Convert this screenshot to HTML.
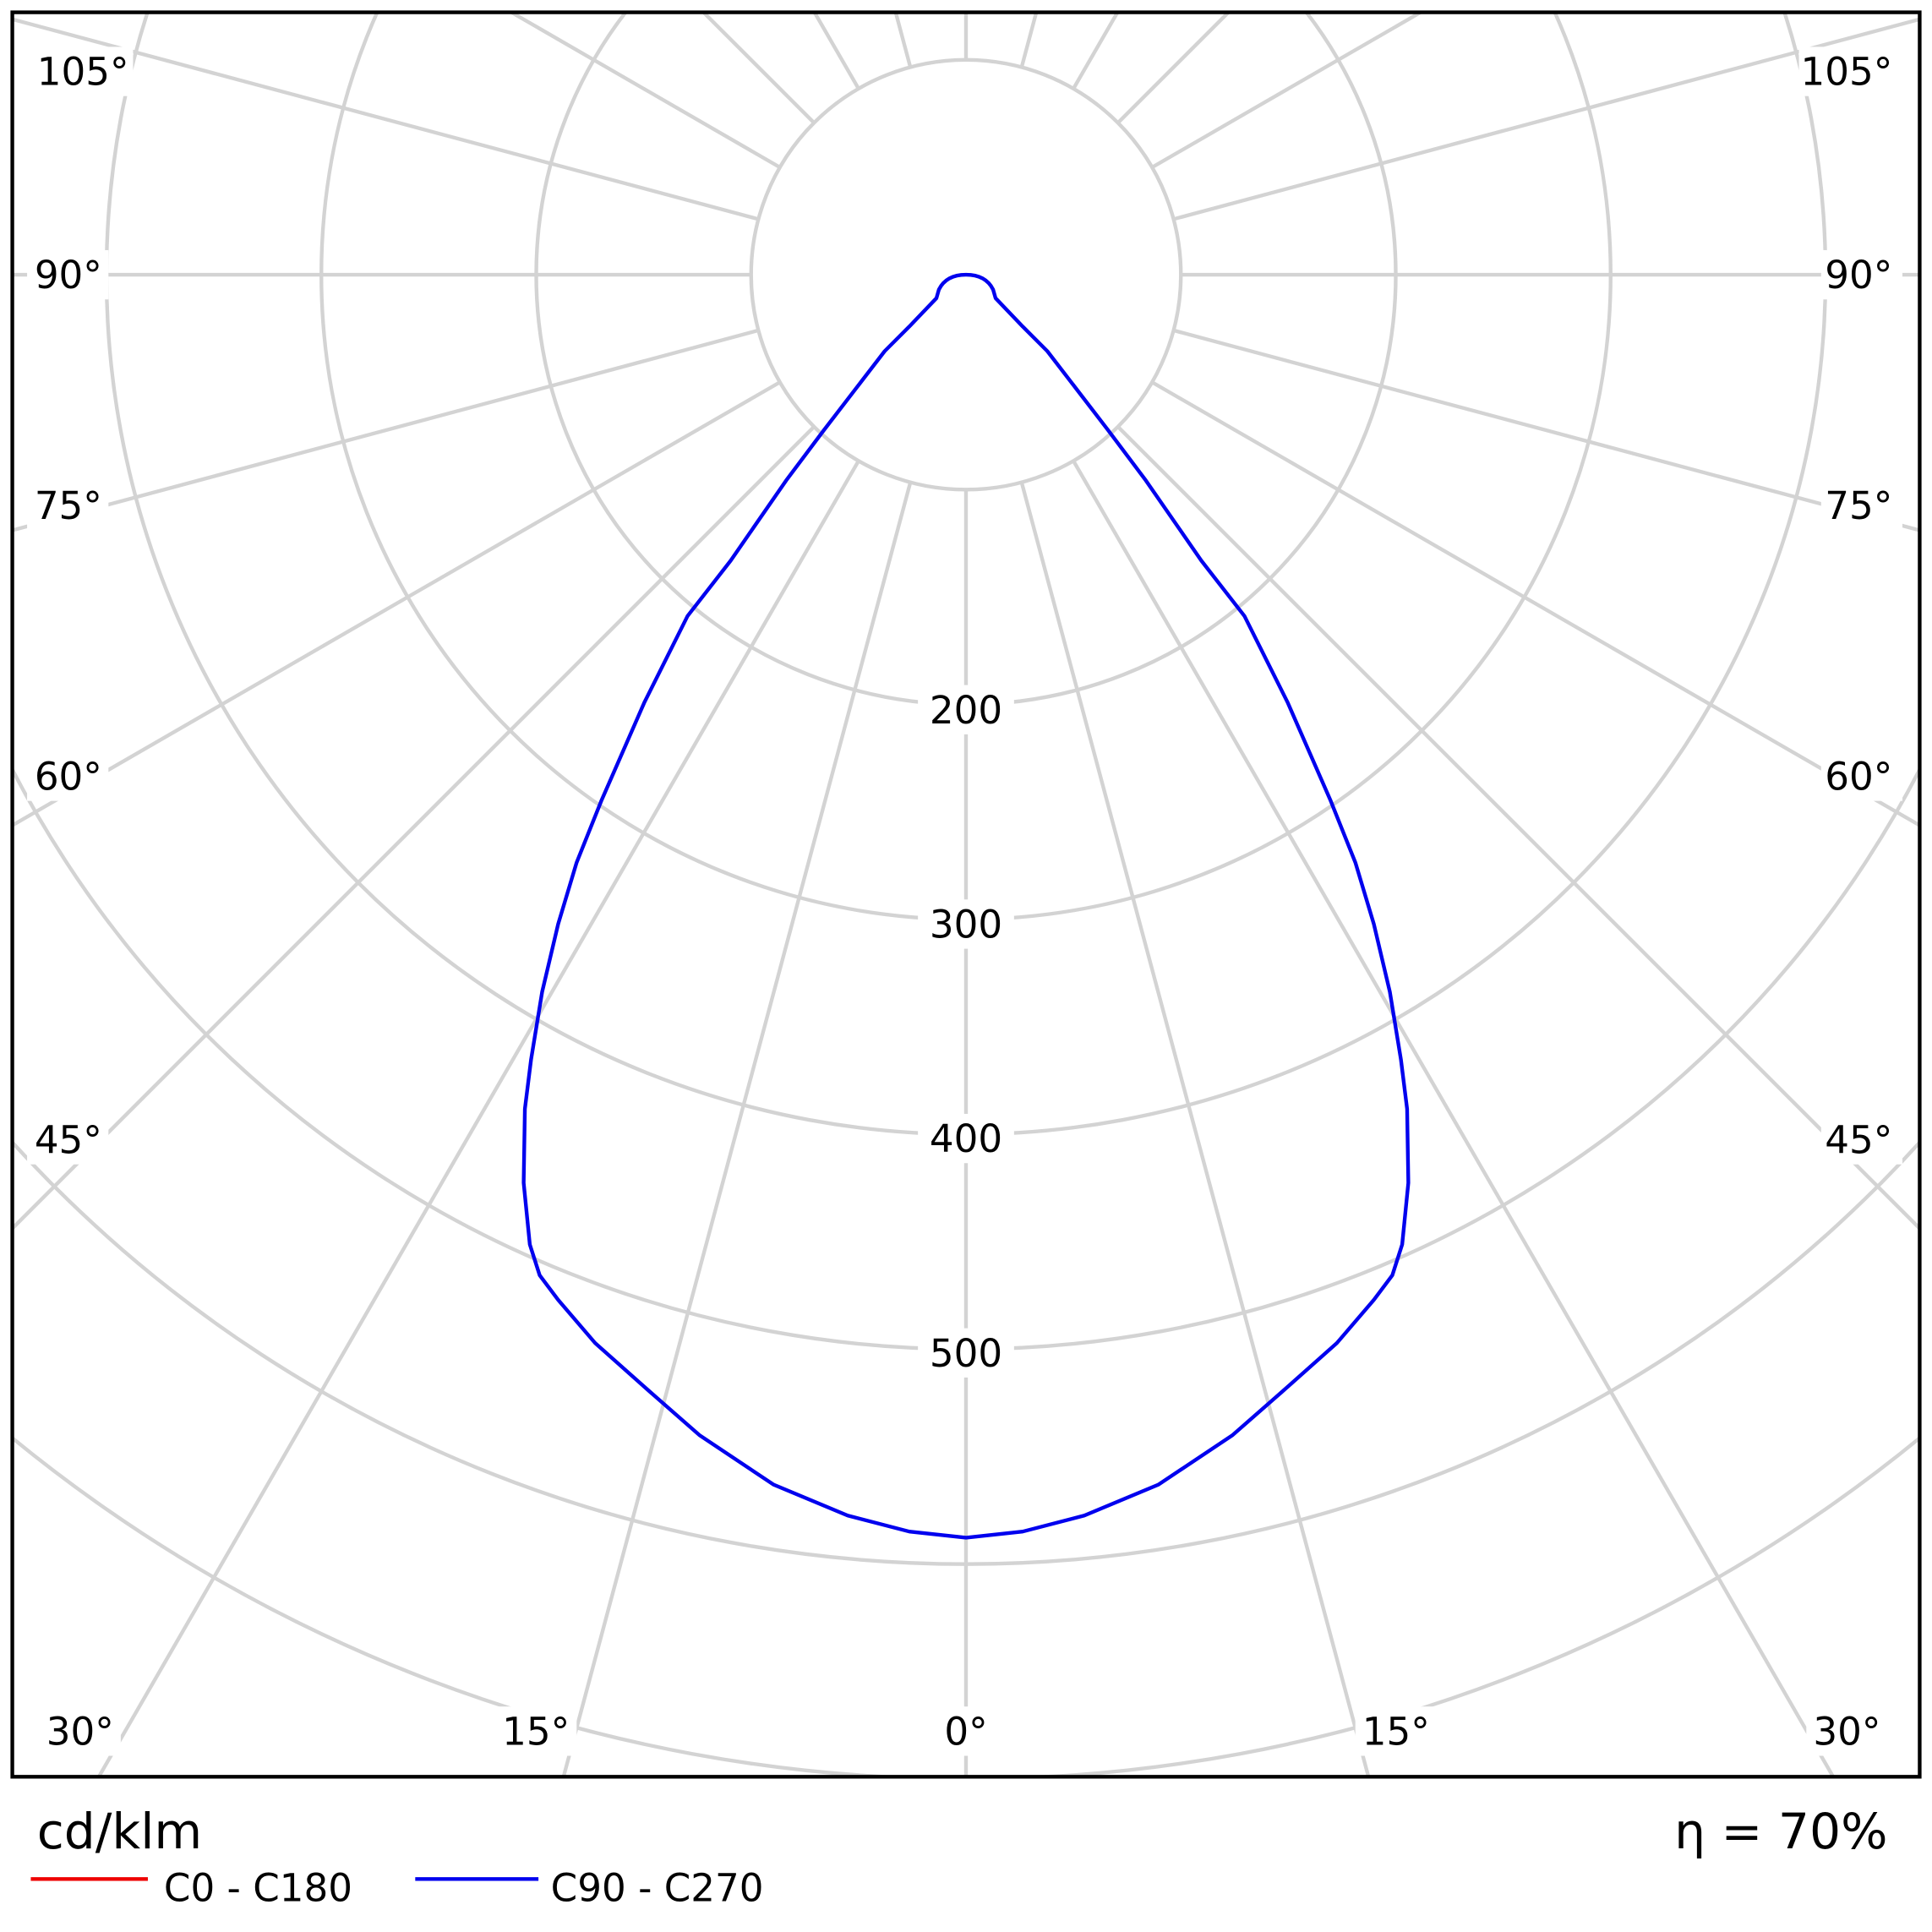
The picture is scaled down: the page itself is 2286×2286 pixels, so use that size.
<!DOCTYPE html>
<html><head><meta charset="utf-8"><style>html,body{margin:0;padding:0;background:#fff;overflow:hidden;width:2286px;height:2286px}svg{display:block}</style></head>
<body>
<svg width="2286" height="2286" viewBox="0 0 1568 1568" xmlns="http://www.w3.org/2000/svg" font-family="'DejaVu Sans','Liberation Sans',sans-serif">
<defs><clipPath id="c"><rect x="10" y="10" width="1548" height="1432"/></clipPath></defs>
<rect width="1568" height="1568" fill="#fff"/>
<g clip-path="url(#c)" stroke="#d3d3d3" stroke-width="3" fill="none">
<circle cx="784" cy="223" r="174.4"/>
<circle cx="784" cy="223" r="348.8"/>
<circle cx="784" cy="223" r="523.2"/>
<circle cx="784" cy="223" r="697.6"/>
<circle cx="784" cy="223" r="872"/>
<circle cx="784" cy="223" r="1046.4"/>
<circle cx="784" cy="223" r="1220.8"/>
<g>
<line x1="784" y1="397.4" x2="784" y2="2000"/>
<line x1="784" y1="397.4" x2="784" y2="2000" transform="rotate(15 784 223)"/>
<line x1="784" y1="397.4" x2="784" y2="2000" transform="rotate(30 784 223)"/>
<line x1="784" y1="397.4" x2="784" y2="2000" transform="rotate(45 784 223)"/>
<line x1="784" y1="397.4" x2="784" y2="2000" transform="rotate(60 784 223)"/>
<line x1="784" y1="397.4" x2="784" y2="2000" transform="rotate(75 784 223)"/>
<line x1="784" y1="397.4" x2="784" y2="2000" transform="rotate(90 784 223)"/>
<line x1="784" y1="397.4" x2="784" y2="2000" transform="rotate(105 784 223)"/>
<line x1="784" y1="397.4" x2="784" y2="2000" transform="rotate(120 784 223)"/>
<line x1="784" y1="397.4" x2="784" y2="2000" transform="rotate(135 784 223)"/>
<line x1="784" y1="397.4" x2="784" y2="2000" transform="rotate(150 784 223)"/>
<line x1="784" y1="397.4" x2="784" y2="2000" transform="rotate(165 784 223)"/>
<line x1="784" y1="397.4" x2="784" y2="2000" transform="rotate(180 784 223)"/>
<line x1="784" y1="397.4" x2="784" y2="2000" transform="rotate(-15 784 223)"/>
<line x1="784" y1="397.4" x2="784" y2="2000" transform="rotate(-30 784 223)"/>
<line x1="784" y1="397.4" x2="784" y2="2000" transform="rotate(-45 784 223)"/>
<line x1="784" y1="397.4" x2="784" y2="2000" transform="rotate(-60 784 223)"/>
<line x1="784" y1="397.4" x2="784" y2="2000" transform="rotate(-75 784 223)"/>
<line x1="784" y1="397.4" x2="784" y2="2000" transform="rotate(-90 784 223)"/>
<line x1="784" y1="397.4" x2="784" y2="2000" transform="rotate(-105 784 223)"/>
<line x1="784" y1="397.4" x2="784" y2="2000" transform="rotate(-120 784 223)"/>
<line x1="784" y1="397.4" x2="784" y2="2000" transform="rotate(-135 784 223)"/>
<line x1="784" y1="397.4" x2="784" y2="2000" transform="rotate(-150 784 223)"/>
<line x1="784" y1="397.4" x2="784" y2="2000" transform="rotate(-165 784 223)"/>
</g>
</g>
<g font-size="31" fill="#000">
<g fill="#fff"><rect x="745" y="556" width="78" height="40"/><rect x="745" y="730" width="78" height="40"/><rect x="745" y="904" width="78" height="40"/><rect x="745" y="1078" width="78" height="40"/>
<rect x="22" y="38" width="86" height="40"/><rect x="1460" y="38" width="86" height="40"/><rect x="22" y="203" width="66" height="40"/><rect x="1478" y="203" width="66" height="40"/>
<rect x="22" y="390" width="66" height="40"/><rect x="1478" y="390" width="66" height="40"/><rect x="22" y="610" width="66" height="40"/><rect x="1478" y="610" width="66" height="40"/>
<rect x="22" y="905" width="66" height="40"/><rect x="1478" y="905" width="66" height="40"/>
<rect x="32" y="1385" width="66" height="40"/><rect x="402" y="1385" width="66" height="40"/><rect x="762" y="1385" width="44" height="40"/><rect x="1100" y="1385" width="66" height="40"/><rect x="1466" y="1385" width="66" height="40"/></g>
<g text-anchor="middle">
<text x="784" y="587">200</text><text x="784" y="761">300</text><text x="784" y="935">400</text><text x="784" y="1109">500</text>
<text x="65" y="1416">30°</text><text x="435" y="1416">15°</text><text x="784" y="1416">0°</text><text x="1133" y="1416">15°</text><text x="1499" y="1416">30°</text>
</g>
<text x="30" y="69">105°</text><text x="28" y="234">90°</text><text x="28" y="421">75°</text><text x="28" y="641">60°</text><text x="28" y="936">45°</text>
<g text-anchor="end"><text x="1536" y="69">105°</text><text x="1536" y="234">90°</text><text x="1536" y="421">75°</text><text x="1536" y="641">60°</text><text x="1536" y="936">45°</text></g>
</g>
<path fill="none" stroke="#0000ee" stroke-width="3" stroke-linejoin="round" stroke-linecap="round" d="M784,1248 L830,1243 L880,1230 L940,1205 L1000,1165 L1040,1130 L1085,1090 L1115,1055 L1130,1035 L1138,1010 L1143,960 L1142,900 L1137,860 L1128,805 L1115,750 L1100,700 L1080,650 L1045,570 L1010,500 L975,455 L930,390 L900,350 L850,285 L830,265 L808,242 L806,235 Q800,223 784,223 Q768,223 762,235 L760,242 L738,265 L718,285 L668,350 L638,390 L593,455 L558,500 L523,570 L488,650 L468,700 L453,750 L440,805 L431,860 L426,900 L425,960 L430,1010 L438,1035 L453,1055 L483,1090 L528,1130 L568,1165 L628,1205 L688,1230 L738,1243 Z"/>
<rect x="10" y="10" width="1548" height="1432" fill="none" stroke="#000" stroke-width="3"/>
<text x="30" y="1500" font-size="40">cd/klm</text>
<text x="1532" y="1500" font-size="40" text-anchor="end">η = 70%</text>
<line x1="25" y1="1525" x2="120" y2="1525" stroke="#ee0000" stroke-width="3"/>
<text x="133" y="1543" font-size="31">C0 - C180</text>
<line x1="337" y1="1525" x2="437" y2="1525" stroke="#0000ee" stroke-width="3"/>
<text x="447" y="1543" font-size="31">C90 - C270</text>
</svg>
</body></html>
